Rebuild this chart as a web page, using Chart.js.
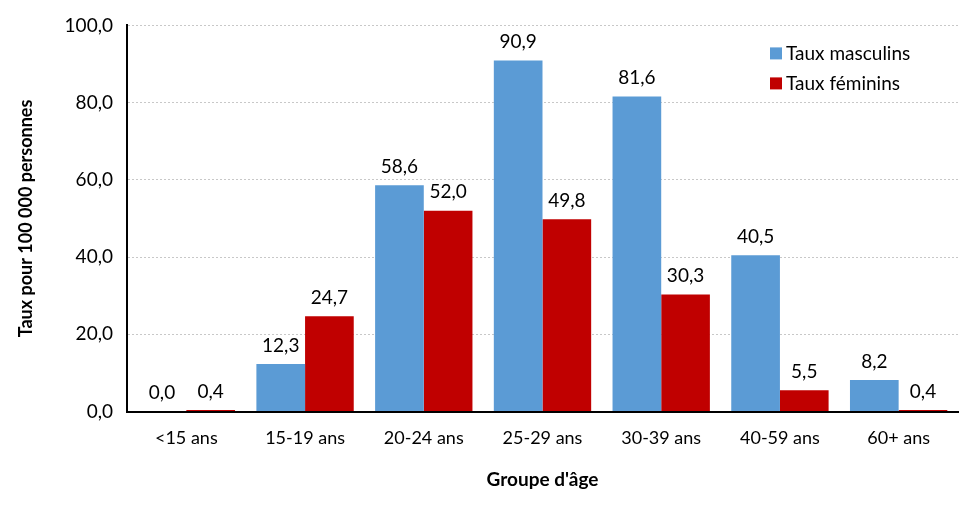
<!DOCTYPE html>
<html>
<head>
<meta charset="utf-8">
<script src="https://cdn.jsdelivr.net/npm/chart.js@4"></script>
<style>
  html, body { margin: 0; padding: 0; background: #fff; }
  #wrap { width: 980px; height: 509px; }
</style>
</head>
<body>
<div id="wrap"><canvas id="chart"></canvas></div>
<script>
const categories = ['<15 ans', '15-19 ans', '20-24 ans', '25-29 ans', '30-39 ans', '40-59 ans', '60+ ans']
const taux_masculins = [0.0, 12.3, 58.6, 90.9, 81.6, 40.5, 8.2]
const taux_feminins = [0.4, 24.7, 52.0, 49.8, 30.3, 5.5, 0.4]
const series_names = ['Taux masculins', 'Taux féminins']
const series_colors = ['#5B9BD5', '#C00000']

const font_family = 'Lato, "Open Sans", sans-serif'
const fr = v => v.toFixed(1).replace('.', ',')

// value labels above each bar
const labels_plugin = {
    id: 'valueLabels',
    afterDatasetsDraw(chart) {
        const ctx = chart.ctx
        ctx.save()
        ctx.font = '19px ' + font_family
        ctx.fillStyle = '#000'
        ctx.textAlign = 'center'
        ctx.textBaseline = 'bottom'
        chart.data.datasets.forEach((ds, i) => {
            chart.getDatasetMeta(i).data.forEach((bar, j) => {
                ctx.fillText(fr(ds.data[j]), bar.x, bar.y - 9)
            })
        })
        ctx.restore()
    }
}

// legend inside the plot, top right
const legend_plugin = {
    id: 'innerLegend',
    afterDraw(chart) {
        const ctx = chart.ctx
        const area = chart.chartArea
        ctx.save()
        ctx.font = '19px ' + font_family
        ctx.textBaseline = 'middle'
        series_names.forEach((name, i) => {
            const x = area.right - 188
            const y = area.top + 28 + i * 30
            ctx.fillStyle = series_colors[i]
            ctx.fillRect(x, y - 6, 12, 12)
            ctx.fillStyle = '#000'
            ctx.fillText(name, x + 16, y)
        })
        ctx.restore()
    }
}

const ctx = document.getElementById('chart').getContext('2d')
new Chart(ctx, {
    type: 'bar',
    data: {
        labels: categories,
        datasets: [
            { label: series_names[0], data: taux_masculins, backgroundColor: series_colors[0] },
            { label: series_names[1], data: taux_feminins, backgroundColor: series_colors[1] }
        ]
    },
    options: {
        responsive: true,
        maintainAspectRatio: false,
        animation: false,
        layout: { padding: { top: 21, right: 22, bottom: 14, left: 11 } },
        categoryPercentage: 0.82,
        barPercentage: 1.0,
        plugins: {
            legend: { display: false },
            tooltip: { enabled: false }
        },
        scales: {
            x: {
                grid: { display: false, drawTicks: false },
                border: { color: '#000', width: 2 },
                ticks: { color: '#000', font: { family: font_family, size: 18 }, padding: 16 },
                title: {
                    display: true, text: "Groupe d'âge", color: '#000',
                    font: { family: font_family, size: 19, weight: 'bold' }, padding: { top: 3 }
                }
            },
            y: {
                min: 0, max: 100,
                ticks: {
                    stepSize: 20, color: '#000', padding: 14,
                    font: { family: font_family, size: 19 },
                    callback: v => fr(v)
                },
                grid: { color: '#c8c8c8', lineWidth: 1, drawTicks: false },
                border: { color: '#000', width: 2, dash: [2, 2] },
                title: {
                    display: true, text: 'Taux pour 100 000 personnes', color: '#000',
                    font: { family: font_family, size: 18, weight: 'bold' }, padding: { bottom: 14 }
                }
            }
        }
    },
    plugins: [labels_plugin, legend_plugin]
})
</script>
</body>
</html>
